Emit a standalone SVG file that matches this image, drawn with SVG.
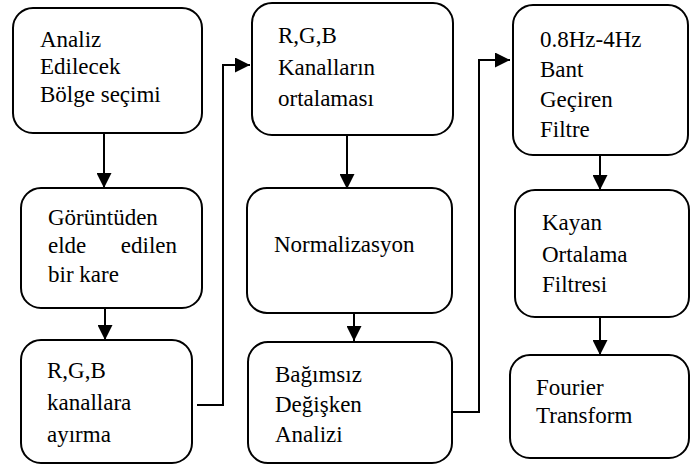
<svg xmlns="http://www.w3.org/2000/svg" width="694" height="468" viewBox="0 0 694 468">
<style>
.box{fill:#fff;stroke:#000;stroke-width:2}
.t{font-family:"Liberation Serif","Times New Roman",serif;font-size:23px;fill:#000}
.c{fill:none;stroke:#000;stroke-width:2}
</style>
<defs>
<marker id="ah" markerUnits="userSpaceOnUse" markerWidth="15" markerHeight="15" refX="15" refY="7.5" orient="auto">
<path d="M0,0 L15,7.5 L0,15 z" fill="#000"/>
</marker>
</defs>
<rect width="694" height="468" fill="#fff"/>
<g id="n1"><rect class="box" x="13" y="8" width="189" height="125" rx="20"/>
<text class="t" x="40" y="47">Analiz</text><text class="t" x="40" y="74">Edilecek</text><text class="t" x="40" y="102">Bölge seçimi</text></g>
<g id="n2"><rect class="box" x="21" y="188" width="181" height="120" rx="20"/>
<text class="t" x="48" y="225">Görüntüden</text><text class="t" x="48" y="253">elde</text><text class="t" x="177" y="253" text-anchor="end">edilen</text><text class="t" x="48" y="282">bir kare</text></g>
<g id="n3"><rect class="box" x="21" y="340" width="171" height="123" rx="20"/>
<text class="t" x="47" y="378">R,G,B</text><text class="t" x="47" y="410">kanallara</text><text class="t" x="47" y="442">ayırma</text></g>
<g id="n4"><rect class="box" x="252" y="3" width="201" height="132" rx="20"/>
<text class="t" x="278" y="43">R,G,B</text><text class="t" x="278" y="75">Kanalların</text><text class="t" x="278" y="106">ortalaması</text></g>
<g id="n5"><rect class="box" x="247" y="188" width="205" height="125" rx="20"/>
<text class="t" x="274" y="252">Normalizasyon</text></g>
<g id="n6"><rect class="box" x="248" y="342" width="204" height="121" rx="20"/>
<text class="t" x="275" y="382">Bağımsız</text><text class="t" x="275" y="412">Değişken</text><text class="t" x="275" y="442">Analizi</text></g>
<g id="n7"><rect class="box" x="513" y="5" width="175" height="150" rx="20"/>
<text class="t" x="540" y="47">0.8Hz-4Hz</text><text class="t" x="540" y="77">Bant</text><text class="t" x="540" y="107">Geçiren</text><text class="t" x="540" y="137">Filtre</text></g>
<g id="n8"><rect class="box" x="515" y="190" width="174" height="127" rx="20"/>
<text class="t" x="542" y="230">Kayan</text><text class="t" x="542" y="262">Ortalama</text><text class="t" x="542" y="292">Filtresi</text></g>
<g id="n9"><rect class="box" x="510" y="355" width="179" height="103" rx="20"/>
<text class="t" x="536" y="395">Fourier</text><text class="t" x="536" y="423">Transform</text></g>
<g id="connectors">
<path class="c" d="M104,133 L104,188" marker-end="url(#ah)"/>
<path class="c" d="M105,308 L105,340" marker-end="url(#ah)"/>
<path class="c" d="M197,405 L223,405 L223,65 L250,65" marker-end="url(#ah)"/>
<path class="c" d="M347,135 L347,189" marker-end="url(#ah)"/>
<path class="c" d="M354,313 L354,341" marker-end="url(#ah)"/>
<path class="c" d="M453,412 L479,412 L479,60 L510,60" marker-end="url(#ah)"/>
<path class="c" d="M600,155 L600,190" marker-end="url(#ah)"/>
<path class="c" d="M600,317 L600,355" marker-end="url(#ah)"/>
</g>
</svg>
